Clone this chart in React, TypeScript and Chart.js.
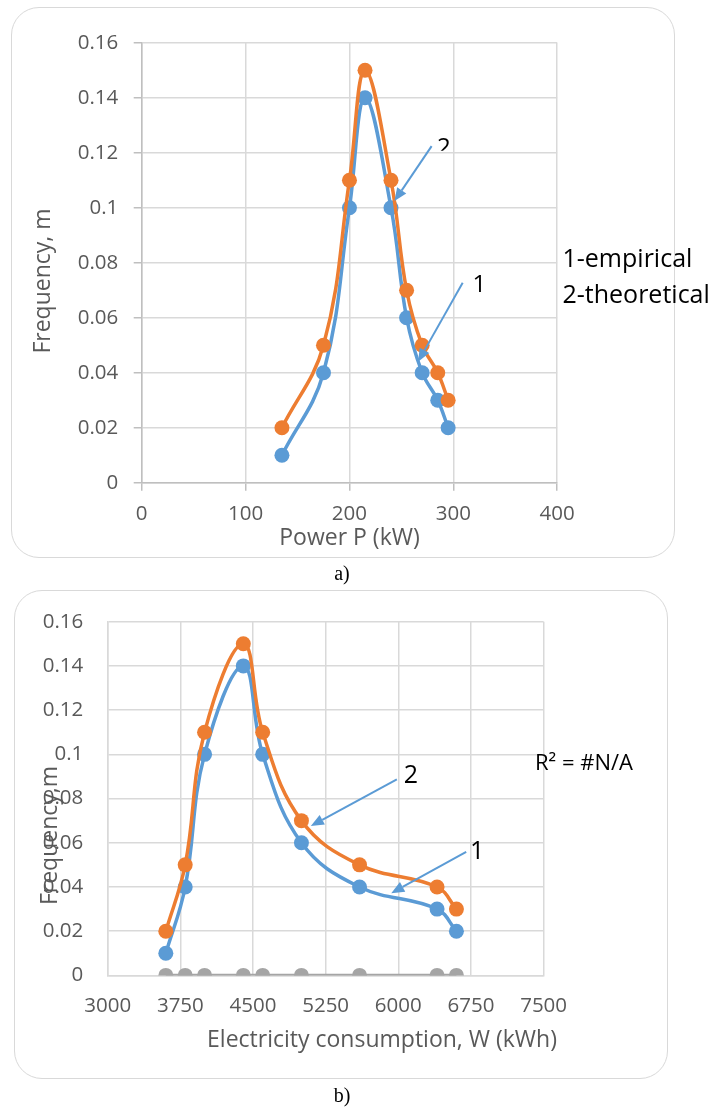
import React, { useEffect, useRef } from "react";
import { Chart, registerables } from "chart.js";

Chart.register(...registerables);

// ---------- data: chart a) ----------
const powerKW = [135, 175, 200, 215, 240, 255, 270, 285, 295];
const empiricalA = [0.01, 0.04, 0.1, 0.14, 0.1, 0.06, 0.04, 0.03, 0.02];
const theoreticalA = [0.02, 0.05, 0.11, 0.15, 0.11, 0.07, 0.05, 0.04, 0.03];
const powerTicks = [0, 100, 200, 300, 400];
const powerTickLabels = ["0", "100", "200", "300", "400"];

// ---------- data: chart b) ----------
const energyKWh = [3600, 3800, 4000, 4400, 4600, 5000, 5600, 6400, 6600];
const empiricalB = [0.01, 0.04, 0.1, 0.14, 0.1, 0.06, 0.04, 0.03, 0.02];
const theoreticalB = [0.02, 0.05, 0.11, 0.15, 0.11, 0.07, 0.05, 0.04, 0.03];
const trendB = [0, 0, 0, 0, 0, 0, 0, 0, 0];
const energyTicks = [3000, 3750, 4500, 5250, 6000, 6750, 7500];
const energyTickLabels = ["3000", "3750", "4500", "5250", "6000", "6750", "7500"];

// ---------- shared y axis ----------
const freqTicks = [0, 0.02, 0.04, 0.06, 0.08, 0.1, 0.12, 0.14, 0.16];
const freqTickLabels = ["0", "0.02", "0.04", "0.06", "0.08", "0.1", "0.12", "0.14", "0.16"];

const FONT = '"Open Sans", "Liberation Sans", sans-serif';
const TEXT_GRAY = "#595959";
const BLUE = "#5B9BD5";
const ORANGE = "#ED7D31";
const GRAY = "#A5A5A5";

type Arrow = { from: [number, number]; to: [number, number] };
type Note = {
  text: string;
  x: number;
  y: number;
  align: CanvasTextAlign;
  size: number;
  clipY?: number;
};

type Spec = {
  top: number;
  height: number;
  area: { left: number; top: number; right: number; bottom: number };
  xMin: number;
  xMax: number;
  xTicks: number[];
  xLabels: string[];
  tickMarks: boolean;
  xPad: number;
  yPad: number;
  axisColor: string;
  datasets: any[];
  xTitle: { text: string; cx: number; cy: number };
  yTitle: { text: string; cx: number; cy: number };
  arrows: Arrow[];
  notes: Note[];
};

const series = (label: string, xs: number[], ys: number[], color: string, order: number) => ({
  label,
  data: xs.map((x, i) => ({ x, y: ys[i] })),
  showLine: true,
  borderColor: color,
  backgroundColor: color,
  borderWidth: 3.5,
  pointRadius: 7.5,
  pointHoverRadius: 7.5,
  pointBorderWidth: 0,
  tension: 0.4,
  order,
});

const specA: Spec = {
  top: 0,
  height: 565,
  area: { left: 141.7, top: 42.7, right: 557.2, bottom: 482.7 },
  xMin: 0,
  xMax: 400,
  xTicks: powerTicks,
  xLabels: powerTickLabels,
  tickMarks: true,
  xPad: 11,
  yPad: 15.4,
  axisColor: "#BFBFBF",
  datasets: [
    series("1-empirical", powerKW, empiricalA, BLUE, 2),
    series("2-theoretical", powerKW, theoreticalA, ORANGE, 1),
  ],
  xTitle: { text: "Power P (kW)", cx: 349.5, cy: 538 },
  yTitle: { text: "Frequency, m", cx: 43.8, cy: 281 },
  arrows: [
    { from: [279.1, 0.1224], to: [243.3, 0.1024] },
    { from: [309.0, 0.0727], to: [266.1, 0.044] },
  ],
  notes: [
    { text: "2", x: 291.0, y: 0.1191, align: "center", size: 24, clipY: 0.1207 },
    { text: "1", x: 325.1, y: 0.0695, align: "center", size: 24 },
    { text: "1-empirical", x: 405.1, y: 0.0785, align: "left", size: 25 },
    { text: "2-theoretical", x: 405.1, y: 0.0652, align: "left", size: 25 },
  ],
};

const specB: Spec = {
  top: 585,
  height: 505,
  area: { left: 107.7, top: 20, right: 543.6, bottom: 390.4 },
  xMin: 3000,
  xMax: 7500,
  xTicks: energyTicks,
  xLabels: energyTickLabels,
  tickMarks: false,
  xPad: 18.3,
  yPad: 24.4,
  axisColor: "#D9D9D9",
  datasets: [
    series("1", energyKWh, empiricalB, BLUE, 3),
    series("2", energyKWh, theoreticalB, ORANGE, 2),
    series("trend", energyKWh, trendB, GRAY, 1),
  ],
  xTitle: { text: "Electricity consumption, W (kWh)", cx: 382, cy: 455 },
  yTitle: { text: "Frequency,m", cx: 50, cy: 250.5 },
  arrows: [
    { from: [5985, 0.0887], to: [5097, 0.0676] },
    { from: [6701, 0.0559], to: [5927, 0.0372] },
  ],
  notes: [
    { text: "2", x: 6131, y: 0.0869, align: "center", size: 25 },
    { text: "1", x: 6815, y: 0.0527, align: "center", size: 25 },
    { text: "R² = #N/A", x: 7411, y: 0.093, align: "left", size: 22 },
  ],
};

function drawArrow(ctx: CanvasRenderingContext2D, x1: number, y1: number, x2: number, y2: number) {
  const ang = Math.atan2(y2 - y1, x2 - x1);
  const headLen = 13;
  const headW = 11;
  const bx = x2 - headLen * Math.cos(ang);
  const by = y2 - headLen * Math.sin(ang);
  ctx.strokeStyle = BLUE;
  ctx.fillStyle = BLUE;
  ctx.lineWidth = 2;
  ctx.beginPath();
  ctx.moveTo(x1, y1);
  ctx.lineTo(bx, by);
  ctx.stroke();
  ctx.beginPath();
  ctx.moveTo(x2, y2);
  ctx.lineTo(bx + (headW / 2) * Math.sin(ang), by - (headW / 2) * Math.cos(ang));
  ctx.lineTo(bx - (headW / 2) * Math.sin(ang), by + (headW / 2) * Math.cos(ang));
  ctx.closePath();
  ctx.fill();
}

function buildConfig(spec: Spec): any {
  const tickFont = { family: FONT, size: 20.5 };
  const decor = {
    id: "decor",
    afterDraw(chart: any) {
      const { ctx, scales } = chart;
      const sx = scales.x;
      const sy = scales.y;
      ctx.save();
      // axis titles
      ctx.fillStyle = TEXT_GRAY;
      ctx.font = `23px ${FONT}`;
      ctx.textAlign = "center";
      ctx.textBaseline = "middle";
      ctx.fillText(spec.xTitle.text, spec.xTitle.cx, spec.xTitle.cy);
      ctx.save();
      ctx.translate(spec.yTitle.cx, spec.yTitle.cy);
      ctx.rotate(-Math.PI / 2);
      ctx.fillText(spec.yTitle.text, 0, 0);
      ctx.restore();
      // arrows
      for (const a of spec.arrows) {
        drawArrow(
          ctx,
          sx.getPixelForValue(a.from[0]),
          sy.getPixelForValue(a.from[1]),
          sx.getPixelForValue(a.to[0]),
          sy.getPixelForValue(a.to[1])
        );
      }
      // notes
      ctx.textBaseline = "alphabetic";
      ctx.fillStyle = "#000000";
      for (const n of spec.notes) {
        ctx.save();
        if (n.clipY !== undefined) {
          ctx.beginPath();
          ctx.rect(0, 0, chart.width, sy.getPixelForValue(n.clipY));
          ctx.clip();
        }
        ctx.font = `${n.size}px ${FONT}`;
        ctx.textAlign = n.align;
        ctx.fillText(n.text, sx.getPixelForValue(n.x), sy.getPixelForValue(n.y));
        ctx.restore();
      }
      ctx.restore();
    },
  };

  const grid = {
    color: "#D9D9D9",
    lineWidth: 1.5,
    drawTicks: spec.tickMarks,
    tickLength: spec.tickMarks ? 8 : 0,
    tickColor: spec.axisColor,
  };

  return {
    type: "scatter",
    data: { datasets: spec.datasets },
    options: {
      responsive: false,
      animation: false,
      devicePixelRatio: 1,
      layout: {
        padding: {
          left: 0,
          top: spec.area.top,
          right: 719 - spec.area.right,
          bottom: 0,
        },
      },
      plugins: {
        legend: { display: false },
        tooltip: { enabled: false },
        title: { display: false },
      },
      scales: {
        x: {
          type: "linear",
          position: "bottom",
          min: spec.xMin,
          max: spec.xMax,
          afterBuildTicks: (s: any) => {
            s.ticks = spec.xTicks.map((v) => ({ value: v }));
          },
          afterFit: (s: any) => {
            s.height = spec.height - spec.area.bottom;
          },
          ticks: {
            callback: (_v: any, i: number) => spec.xLabels[i],
            color: TEXT_GRAY,
            font: tickFont,
            padding: spec.xPad,
            maxRotation: 0,
            autoSkip: false,
          },
          grid,
          border: { color: spec.axisColor, width: 1.5 },
        },
        y: {
          type: "linear",
          position: "left",
          min: 0,
          max: 0.16,
          afterBuildTicks: (s: any) => {
            s.ticks = freqTicks.map((v) => ({ value: v }));
          },
          afterFit: (s: any) => {
            s.width = spec.area.left;
          },
          ticks: {
            callback: (_v: any, i: number) => freqTickLabels[i],
            color: TEXT_GRAY,
            font: tickFont,
            padding: spec.yPad,
            autoSkip: false,
          },
          grid,
          border: { color: spec.axisColor, width: 1.5 },
        },
      },
    },
    plugins: [decor],
  };
}

function ChartCanvas({ spec }: { spec: Spec }) {
  const ref = useRef<HTMLCanvasElement>(null);
  useEffect(() => {
    const chart = new Chart(ref.current as HTMLCanvasElement, buildConfig(spec));
    return () => chart.destroy();
  }, [spec]);
  return (
    <canvas
      ref={ref}
      width={719}
      height={spec.height}
      style={{ position: "absolute", left: 0, top: spec.top, width: 719, height: spec.height }}
    />
  );
}

const cardStyle = (left: number, top: number, width: number, height: number): React.CSSProperties => ({
  position: "absolute",
  left,
  top,
  width,
  height,
  border: "1.5px solid #D9D9D9",
  borderRadius: 28,
  boxSizing: "border-box",
  background: "#FFFFFF",
});

const captionStyle = (top: number): React.CSSProperties => ({
  position: "absolute",
  left: 292,
  top,
  width: 100,
  textAlign: "center",
  fontFamily: '"Liberation Serif", "Times New Roman", serif',
  fontSize: 20,
  lineHeight: "20px",
  color: "#000",
});

export default function App() {
  return (
    <div style={{ position: "absolute", left: 0, top: 0, width: 719, height: 1112, background: "#FFFFFF" }}>
      <div style={cardStyle(10.7, 6.7, 664.5, 551)} />
      <div style={cardStyle(14, 590, 653.5, 489)} />
      <ChartCanvas spec={specA} />
      <ChartCanvas spec={specB} />
      <div style={captionStyle(562.6)}>a)</div>
      <div style={captionStyle(1084.6)}>b)</div>
    </div>
  );
}
